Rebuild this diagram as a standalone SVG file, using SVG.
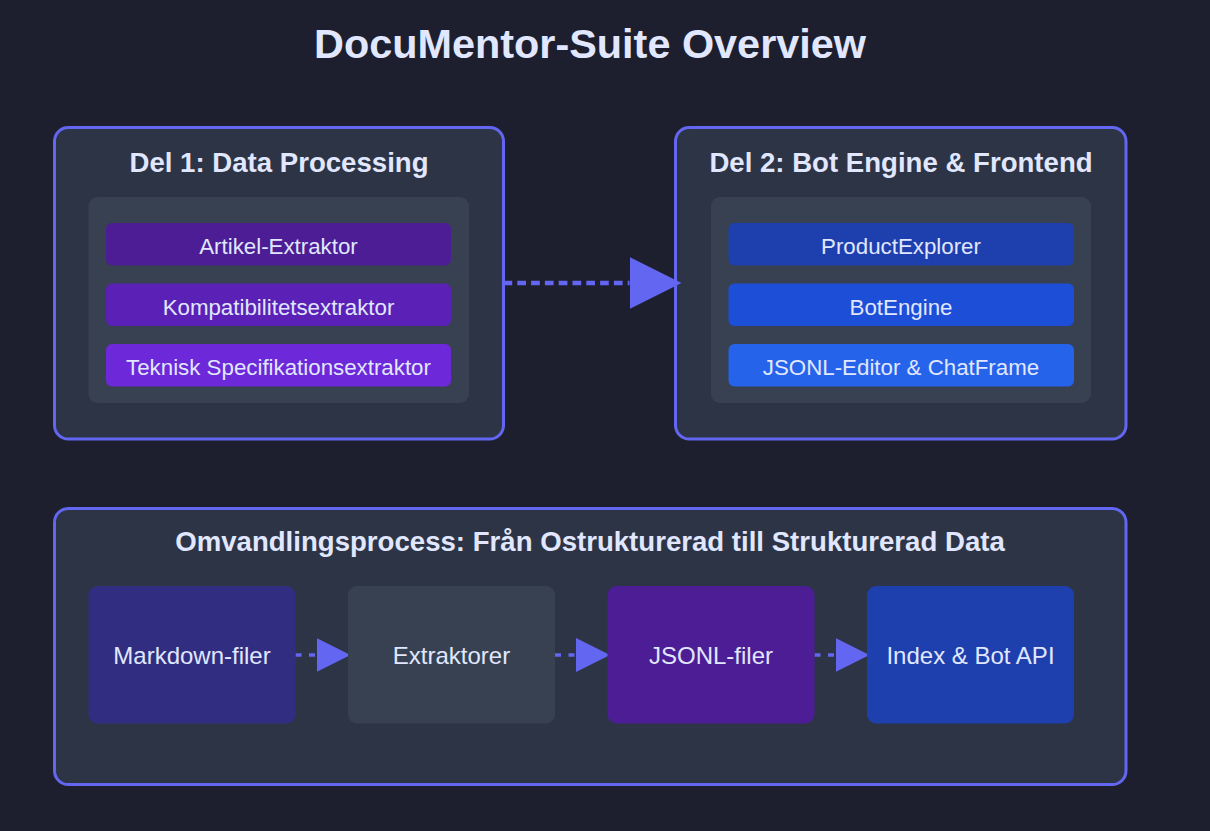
<svg xmlns="http://www.w3.org/2000/svg" width="1210" height="831" viewBox="0 0 1210 831">
<defs>
<style>
.bg{fill:#1e1f2e}
.box{fill:#2d3446;stroke:#6366f1;stroke-width:3}
.panel{fill:#374151}
.t{font-family:"Liberation Sans",Arial,sans-serif;fill:#e0e7ff;text-anchor:middle}
.h1{font-size:41.4px;font-weight:bold}
.h2{font-size:27.6px;font-weight:bold}
.it{font-size:22.3px}
.nd{font-size:24px}
.conn{stroke:#6366f1;fill:none}
</style>
<marker id="bigArrow" markerUnits="userSpaceOnUse" viewBox="0 0 52 52" markerWidth="52" markerHeight="52" refX="0" refY="26" orient="auto">
<path d="M0,0 L52,26 L0,52 z" fill="#6366f1"/>
</marker>
<marker id="smallArrow" markerUnits="userSpaceOnUse" viewBox="0 0 34 34" markerWidth="34" markerHeight="34" refX="0" refY="17" orient="auto">
<path d="M0,0 L34,17 L0,34 z" fill="#6366f1"/>
</marker>
</defs>
<rect class="bg" x="0" y="0" width="1210" height="831"/>
<text class="t h1" x="590" y="58">DocuMentor-Suite Overview</text>

<g id="del1">
<rect class="box" x="54.5" y="127.5" width="449" height="311.5" rx="13.8"/>
<text class="t h2" x="279" y="171.5">Del 1: Data Processing</text>
<rect class="panel" x="88.5" y="197" width="380.5" height="206" rx="9"/>
<g id="artikel"><rect x="106" y="223" width="345" height="42.5" rx="6" fill="#4c1d95"/><text class="t it" x="278.5" y="254">Artikel-Extraktor</text></g>
<g id="kompat"><rect x="106" y="283.5" width="345" height="42.5" rx="6" fill="#5b21b6"/><text class="t it" x="278.5" y="314.5">Kompatibilitetsextraktor</text></g>
<g id="teknisk"><rect x="106" y="344" width="345" height="42.5" rx="6" fill="#6d28d9"/><text class="t it" x="278.5" y="375">Teknisk Specifikationsextraktor</text></g>
</g>

<g id="del2">
<rect class="box" x="675.5" y="127.5" width="450.5" height="311.5" rx="13.8"/>
<text class="t h2" x="901" y="171.5">Del 2: Bot Engine &amp; Frontend</text>
<rect class="panel" x="711" y="197" width="380" height="206" rx="9"/>
<g id="productexplorer"><rect x="728.5" y="223" width="345.5" height="42.5" rx="6" fill="#1e40af"/><text class="t it" x="901" y="254">ProductExplorer</text></g>
<g id="botengine"><rect x="728.5" y="283.5" width="345.5" height="42.5" rx="6" fill="#1d4ed8"/><text class="t it" x="901" y="314.5">BotEngine</text></g>
<g id="jsonleditor"><rect x="728.5" y="344" width="345.5" height="42.5" rx="6" fill="#2563eb"/><text class="t it" x="901" y="375">JSONL-Editor &amp; ChatFrame</text></g>
</g>

<g id="process">
<rect class="box" x="54.5" y="508.5" width="1071.5" height="276" rx="13.8"/>
<text class="t h2" x="590" y="551">Omvandlingsprocess: Från Ostrukturerad till Strukturerad Data</text>
</g>

<g id="connectors">
<line class="conn" x1="503.5" y1="283" x2="629.5" y2="283" stroke-width="4.6" stroke-dasharray="8.7 5.1" marker-end="url(#bigArrow)"/>
<line class="conn" x1="295.5" y1="655" x2="316.5" y2="655" stroke-width="3.45" stroke-dasharray="6 7.5" marker-end="url(#smallArrow)"/>
<line class="conn" x1="555" y1="655" x2="576" y2="655" stroke-width="3.45" stroke-dasharray="6 7.5" marker-end="url(#smallArrow)"/>
<line class="conn" x1="814.5" y1="655" x2="835.5" y2="655" stroke-width="3.45" stroke-dasharray="6 7.5" marker-end="url(#smallArrow)"/>
</g>

<g id="markdown"><rect x="88.5" y="586" width="207" height="137.5" rx="9" fill="#312e81"/><text class="t nd" x="192" y="663.5">Markdown-filer</text></g>
<g id="extraktorer"><rect x="348" y="586" width="207" height="137.5" rx="9" fill="#374151"/><text class="t nd" x="451.5" y="663.5">Extraktorer</text></g>
<g id="jsonlfiler"><rect x="607.5" y="586" width="207" height="137.5" rx="9" fill="#4c1d95"/><text class="t nd" x="711" y="663.5">JSONL-filer</text></g>
<g id="index"><rect x="867" y="586" width="207" height="137.5" rx="9" fill="#1e40af"/><text class="t nd" x="970.5" y="663.5">Index &amp; Bot API</text></g>
</svg>
